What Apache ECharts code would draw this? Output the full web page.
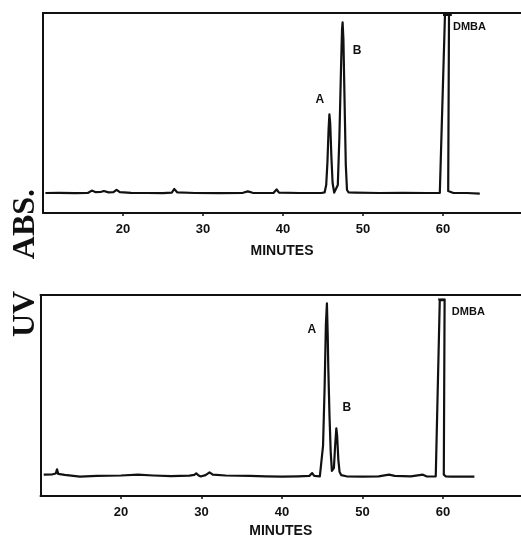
<!DOCTYPE html>
<html>
<head>
<meta charset="utf-8">
<script src="https://cdn.jsdelivr.net/npm/echarts@6/dist/echarts.min.js"></script>
<style>html,body{margin:0;padding:0;background:#fff}#c{width:521px;height:537px}</style>
</head>
<body>
<div id="c"></div>
<script>
// x-axis tick values (minutes)
var xTicks = [20, 30, 40, 50, 60];
// Top chromatogram trace: [minutes, relative UV absorbance]
var topTrace = [
  [10.3,10],[12,10.1],[14,9.9],[15.6,10],[16.1,11.2],[16.6,10.4],[17.2,10.5],[17.6,11],[18.2,10.3],
  [18.8,10.4],[19.2,11.6],[19.6,10.4],[21,10.1],[23,10],[25,9.9],[26.1,10.2],[26.4,12],[26.8,10.3],
  [29,10],[32,9.9],[35,10.1],[35.6,10.8],[36.2,10.1],[38.8,10],[39.2,11.8],[39.5,10.2],[42,10],
  [44.8,10],[45.2,10.3],[45.4,14],[45.55,25],[45.7,42],[45.8,49.3],[45.9,45],[46.05,28],[46.2,15],
  [46.4,10.2],[46.6,10.3],[46.85,14],[47.05,38],[47.25,72],[47.38,92],[47.45,95.3],[47.55,87],
  [47.7,55],[47.85,24],[48.0,11.5],[48.2,10.3],[49,10.2],[52,10],[55,10.1],[58,10],[59.6,10],
  [59.75,10.8],[60.25,99.5],[60.75,99.5],[60.65,11],[60.9,10.2],[61.3,10],[63,10],[64.6,9.7]
];
// Off-scale cap of the top DMBA peak
var topCap = [[60.0,99.3],[61.1,99.3]];
// Bottom chromatogram trace
var bottomTrace = [
  [10.4,10.6],[11.5,10.8],[11.9,11.2],[12.05,13.3],[12.2,11],[13,10.5],[14.9,9.6],[17,10],[20,10.2],
  [22.1,10.6],[24,10.2],[26.2,9.9],[28.5,10.1],[29.1,10.5],[29.35,11.3],[29.6,10.3],[29.9,9.7],
  [30.5,10.4],[31.0,11.8],[31.4,10.6],[33,10.2],[36,10],[38,9.8],[40,9.6],[42,9.8],[43.4,10],
  [43.75,11.4],[44.0,10],[44.7,9.8],[44.9,10.2],[45.1,25],[45.3,55],[45.45,85],[45.58,95.8],
  [45.68,80],[45.75,64],[45.9,40],[46.05,22],[46.2,12.5],[46.3,11.6],[46.45,14],[46.6,25],
  [46.75,33.7],[46.85,30],[47.0,18],[47.15,12],[47.35,10.4],[48,9.8],[50,9.6],[52,9.8],[53.3,10.6],
  [54,10],[56,9.8],[57.5,10.6],[58,9.7],[59.1,9.8],[59.25,10.4],[59.6,97.5],[60.2,97.5],[60.1,10.6],
  [60.35,9.8],[61,9.6],[63,9.6],[63.9,9.6]
];
// Off-scale cap of the bottom DMBA peak
var bottomCap = [[59.4,97.8],[60.3,97.8]];
// Peak names
var peakNames = ['A', 'B', 'DMBA'];

var ink = '#111';
var chart = echarts.init(document.getElementById('c'));

function xAxisCfg(gi, gap, max) {
  return {
    gridIndex: gi, type: 'value', min: 10, max: max, interval: 10, position: 'bottom',
    axisLine: {show: true, onZero: false, lineStyle: {color: ink, width: 2}},
    axisTick: {show: true, length: 3, lineStyle: {color: ink, width: 1.5}, customValues: xTicks},
    axisLabel: {color: ink, fontFamily: 'Liberation Sans', fontWeight: 'bold', fontSize: 13, margin: 10,
      customValues: xTicks},
    splitLine: {show: false},
    name: 'MINUTES', nameLocation: 'middle', nameGap: gap,
    nameTextStyle: {color: ink, fontFamily: 'Liberation Sans', fontWeight: 'bold', fontSize: 14, verticalAlign: 'top'}
  };
}
function topAxisCfg(gi, max) {
  return {
    gridIndex: gi, type: 'value', min: 10, max: max, position: 'top',
    axisLine: {show: true, onZero: false, lineStyle: {color: ink, width: 2}},
    axisTick: {show: false}, axisLabel: {show: false}, splitLine: {show: false}
  };
}
function yAxisCfg(gi) {
  return {
    gridIndex: gi, type: 'value', min: 0, max: 100,
    axisLine: {show: true, onZero: false, lineStyle: {color: ink, width: 2}},
    axisTick: {show: false}, axisLabel: {show: false}, splitLine: {show: false}
  };
}
function labelPt(name, x, y, align, size) {
  return {name: name, coord: [x, y], label: {align: align || 'center', fontSize: size || 12}};
}
var mpLabel = {show: true, formatter: '{b}', color: ink, fontFamily: 'Liberation Sans', fontWeight: 'bold',
  fontSize: 12, position: 'inside', verticalAlign: 'middle'};

var topMax = 69.75, botMax = 69.69;

chart.setOption({
  animation: false,
  backgroundColor: '#fff',
  grid: [
    {left: 43, top: 13, right: 0, height: 200, outerBoundsMode: 'none', containLabel: false},
    {left: 40.5, top: 295, right: 0, height: 201, outerBoundsMode: 'none', containLabel: false}
  ],
  xAxis: [xAxisCfg(0, 31, topMax), xAxisCfg(1, 28, botMax), topAxisCfg(0, topMax), topAxisCfg(1, botMax)],
  yAxis: [yAxisCfg(0), yAxisCfg(1)],
  graphic: [
    {type: 'text', x: 26, y: 224, rotation: Math.PI / 2,
      style: {text: 'ABS.', font: 'bold 32px "Liberation Serif"', fill: ink, align: 'center', verticalAlign: 'middle'}},
    {type: 'text', x: 26, y: 314, rotation: Math.PI / 2,
      style: {text: 'UV', font: 'bold 32px "Liberation Serif"', fill: ink, align: 'center', verticalAlign: 'middle'}}
  ],
  series: [
    {type: 'line', xAxisIndex: 0, yAxisIndex: 0, data: topTrace, showSymbol: false, symbol: 'none',
      lineStyle: {color: ink, width: 2.2, join: 'round'},
      markPoint: {symbol: 'rect', symbolSize: 1, itemStyle: {color: 'transparent'}, label: mpLabel,
        data: [labelPt(peakNames[0], 44.6, 56.5), labelPt(peakNames[1], 49.25, 81),
               labelPt(peakNames[2], 61.25, 93, 'left', 11)]}},
    {type: 'line', xAxisIndex: 0, yAxisIndex: 0, data: topCap, showSymbol: false, symbol: 'none',
      lineStyle: {color: ink, width: 3}},
    {type: 'line', xAxisIndex: 1, yAxisIndex: 1, data: bottomTrace, showSymbol: false, symbol: 'none',
      lineStyle: {color: ink, width: 2.2, join: 'round'},
      markPoint: {symbol: 'rect', symbolSize: 1, itemStyle: {color: 'transparent'}, label: mpLabel,
        data: [labelPt(peakNames[0], 43.7, 82.9), labelPt(peakNames[1], 48.05, 44.1),
               labelPt(peakNames[2], 61.1, 91.7, 'left', 11)]}},
    {type: 'line', xAxisIndex: 1, yAxisIndex: 1, data: bottomCap, showSymbol: false, symbol: 'none',
      lineStyle: {color: ink, width: 2}}
  ]
});
</script>
</body>
</html>
